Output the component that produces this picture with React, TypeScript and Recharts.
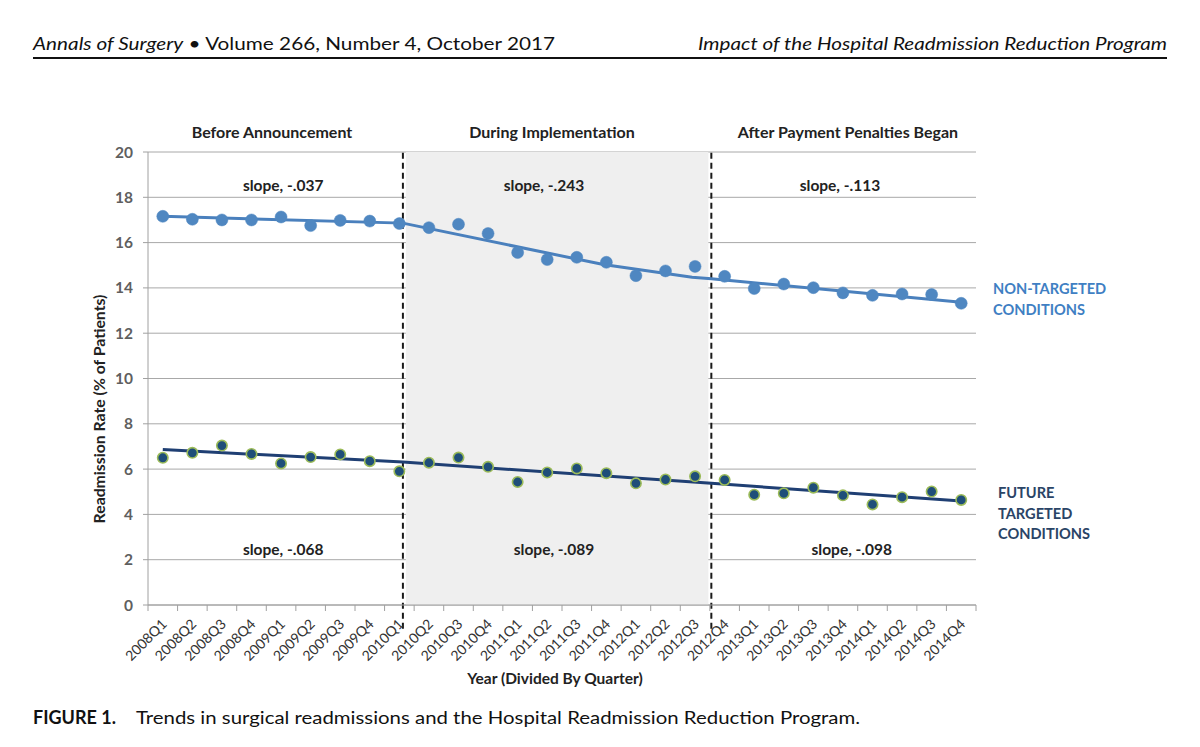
import React from 'react';
import {
  ComposedChart,
  Line,
  XAxis,
  YAxis,
  CartesianGrid,
  ReferenceLine,
  ReferenceArea,
  ReferenceDot,
} from 'recharts';

// ---------- data ----------
const quarters = [
  '2008Q1', '2008Q2', '2008Q3', '2008Q4',
  '2009Q1', '2009Q2', '2009Q3', '2009Q4',
  '2010Q1', '2010Q2', '2010Q3', '2010Q4',
  '2011Q1', '2011Q2', '2011Q3', '2011Q4',
  '2012Q1', '2012Q2', '2012Q3', '2012Q4',
  '2013Q1', '2013Q2', '2013Q3', '2013Q4',
  '2014Q1', '2014Q2', '2014Q3', '2014Q4',
];

const nonTargeted = [
  17.16, 17.03, 17.0, 17.0, 17.13, 16.75, 16.98, 16.95,
  16.84, 16.66, 16.81, 16.4, 15.56, 15.25, 15.35, 15.13,
  14.54, 14.75, 14.95, 14.51, 13.97, 14.17, 14.01, 13.78,
  13.67, 13.73, 13.71, 13.32,
];

const futureTargeted = [
  6.5, 6.72, 7.04, 6.67, 6.25, 6.53, 6.65, 6.35,
  5.9, 6.28, 6.51, 6.1, 5.43, 5.85, 6.03, 5.82,
  5.37, 5.54, 5.68, 5.52, 4.87, 4.93, 5.18, 4.84,
  4.44, 4.76, 5.01, 4.64,
];

// fitted trend vertices (x in quarter index units)
const trendNTx = [0, 8.12, 14.9, 17.9, 18.55, 27];
const trendNTy = [17.16, 16.86, 15.03, 14.47, 14.4, 13.37];
const trendFTx = [0, 8.12, 18.55, 27];
const trendFTy = [6.86, 6.31, 5.37, 4.59];

const yTicks = [0, 2, 4, 6, 8, 10, 12, 14, 16, 18, 20];

// period boundaries (quarter index units)
const announcement = 8.12;
const penalties = 18.55;
const shadeRange = [8.22, 18.45];

const slopeLabels = [
  { x: 4.07, y: 18.54, text: 'slope, -.037' },
  { x: 12.89, y: 18.54, text: 'slope, -.243' },
  { x: 22.9, y: 18.54, text: 'slope, -.113' },
  { x: 4.07, y: 2.43, text: 'slope, -.068' },
  { x: 13.23, y: 2.43, text: 'slope, -.089' },
  { x: 23.3, y: 2.43, text: 'slope, -.098' },
];

// ---------- tables ----------
const chartData = quarters.map((q, i) => ({
  idx: i,
  q,
  nt: nonTargeted[i],
  ft: futureTargeted[i],
}));
const trendNT = trendNTx.map((x, i) => ({ idx: x, v: trendNTy[i] }));
const trendFT = trendFTx.map((x, i) => ({ idx: x, v: trendFTy[i] }));
const xTicks = quarters.map((_, i) => i);

// ---------- layout ----------
const W = 1200;
const H = 747;
const M = { top: 152, right: 224, bottom: 0, left: 0 };
const Y_AXIS_W = 148;
const X_AXIS_H = 142;
const PLOT_W = W - M.right - Y_AXIS_W;
const BW = PLOT_W / quarters.length;

const FONT = 'Lato, "Noto Sans", sans-serif';
const AXIS_GRAY = '#a0a0a0';

function XTick(props: any) {
  const { x, y, payload } = props;
  const i = payload.value as number;
  const label = quarters[i];
  const tx = x + 5;
  const ty = y + 20;
  return (
    <g>
      <line x1={x - BW / 2} y1={y} x2={x - BW / 2} y2={y + 6} stroke={AXIS_GRAY} strokeWidth={1} />
      {i === quarters.length - 1 && (
        <line x1={x + BW / 2} y1={y} x2={x + BW / 2} y2={y + 6} stroke={AXIS_GRAY} strokeWidth={1} />
      )}
      <text
        x={tx}
        y={ty}
        transform={`rotate(-45 ${tx} ${ty})`}
        textAnchor="end"
        fontSize={14}
        fill="#333"
        fontFamily={FONT}
      >
        {label}
      </text>
    </g>
  );
}

const titleStyle = { fontSize: 16, fontWeight: 700, fill: '#222', fontFamily: FONT } as const;
const seriesLabel = { fontSize: 14.6, fontWeight: 700, fontFamily: FONT } as const;

export default function App() {
  return (
    <div style={{ position: 'absolute', left: 0, top: 0, width: W, height: H, background: '#fff' }}>
      <ComposedChart width={W} height={H} data={chartData} margin={M}>
        <ReferenceArea
          x1={shadeRange[0]}
          x2={shadeRange[1]}
          y1={0}
          y2={20}
          fill="#efefef"
          fillOpacity={1}
          stroke="none"
        />
        <CartesianGrid vertical={false} stroke="#a8a8a8" strokeWidth={1} />
        <XAxis
          dataKey="idx"
          type="number"
          domain={[-0.5, 27.5]}
          ticks={xTicks}
          interval={0}
          height={X_AXIS_H}
          tickSize={0}
          tickMargin={0}
          tickLine={false}
          axisLine={{ stroke: AXIS_GRAY }}
          tick={<XTick />}
          allowDataOverflow
        />
        <YAxis
          type="number"
          domain={[0, 20]}
          ticks={yTicks}
          width={Y_AXIS_W}
          tickSize={5}
          tickMargin={10}
          axisLine={{ stroke: AXIS_GRAY }}
          tickLine={{ stroke: AXIS_GRAY }}
          tick={{ fontSize: 15.5, fill: '#5f5f5f', fontFamily: FONT, fontWeight: 700 }}
          interval={0}
        />
        <ReferenceLine
          segment={[{ x: announcement, y: -1.05 }, { x: announcement, y: 20 }]}
          stroke="#1a1a1a"
          strokeWidth={2}
          strokeDasharray="6 4"
          ifOverflow="visible"
        />
        <ReferenceLine
          segment={[{ x: penalties, y: -1.05 }, { x: penalties, y: 20 }]}
          stroke="#1a1a1a"
          strokeWidth={2}
          strokeDasharray="6 4"
          ifOverflow="visible"
        />
        <Line
          data={trendNT}
          dataKey="v"
          stroke="#4a80bd"
          strokeWidth={3}
          dot={false}
          activeDot={false}
          isAnimationActive={false}
        />
        <Line
          data={trendFT}
          dataKey="v"
          stroke="#1f3f73"
          strokeWidth={3}
          dot={false}
          activeDot={false}
          isAnimationActive={false}
        />
        <Line
          dataKey="nt"
          stroke="none"
          dot={{ r: 6, fill: '#4f87c1', stroke: '#4f87c1', strokeWidth: 0.5 }}
          activeDot={false}
          isAnimationActive={false}
        />
        <Line
          dataKey="ft"
          stroke="none"
          dot={{ r: 5.2, fill: '#1f4e79', stroke: '#9bbb59', strokeWidth: 1.6 }}
          activeDot={false}
          isAnimationActive={false}
        />
        {slopeLabels.map((s) => (
          <ReferenceDot
            key={s.text}
            x={s.x}
            y={s.y}
            r={0}
            fill="none"
            stroke="none"
            label={{
              value: s.text,
              position: 'center',
              fill: '#222',
              fontSize: 15.5,
              fontWeight: 700,
              fontFamily: FONT,
            }}
          />
        ))}
      </ComposedChart>

      <svg
        width={W}
        height={H}
        style={{ position: 'absolute', left: 0, top: 0, pointerEvents: 'none' }}
      >
        {/* running header */}
        <text x={33} y={50} fontSize={18} fill="#111" fontFamily={FONT} textLength={522} lengthAdjust="spacingAndGlyphs">
          <tspan fontStyle="italic">Annals of Surgery</tspan>
          <tspan> • Volume 266, Number 4, October 2017</tspan>
        </text>
        <text
          x={1167}
          y={50}
          fontSize={18}
          fill="#111"
          fontFamily={FONT}
          fontStyle="italic"
          textAnchor="end"
          textLength={469}
          lengthAdjust="spacingAndGlyphs"
        >
          Impact of the Hospital Readmission Reduction Program
        </text>
        <line x1={33} y1={58} x2={1167} y2={58} stroke="#111" strokeWidth={2} />

        {/* period titles */}
        <text x={272} y={138} textAnchor="middle" {...titleStyle}>
          Before Announcement
        </text>
        <text x={552} y={138} textAnchor="middle" {...titleStyle}>
          During Implementation
        </text>
        <text x={848} y={138} textAnchor="middle" {...titleStyle}>
          After Payment Penalties Began
        </text>

        {/* series labels */}
        <text x={993} y={294} fill="#3f7fc3" {...seriesLabel}>
          NON-TARGETED
        </text>
        <text x={993} y={315} fill="#3f7fc3" {...seriesLabel}>
          CONDITIONS
        </text>
        <text x={998} y={498} fill="#2a4466" {...seriesLabel}>
          FUTURE
        </text>
        <text x={998} y={519} fill="#2a4466" {...seriesLabel}>
          TARGETED
        </text>
        <text x={998} y={539} fill="#2a4466" {...seriesLabel}>
          CONDITIONS
        </text>

        {/* axis titles */}
        <text
          x={105}
          y={409}
          transform="rotate(-90 105 409)"
          textAnchor="middle"
          fontSize={15.8}
          fontWeight={700}
          fill="#222"
          fontFamily={FONT}
        >
          Readmission Rate (% of Patients)
        </text>
        <text x={555} y={684} textAnchor="middle" fontSize={15.5} fontWeight={700} fill="#222" fontFamily={FONT}>
          Year (Divided By Quarter)
        </text>

        {/* caption */}
        <text x={33} y={724} fontSize={18} fill="#111" fontFamily={FONT}>
          <tspan fontWeight={700}>FIGURE 1.</tspan>
        </text>
        <text x={136} y={724} fontSize={18} fill="#111" fontFamily={FONT} textLength={724} lengthAdjust="spacingAndGlyphs">
          Trends in surgical readmissions and the Hospital Readmission Reduction Program.
        </text>
      </svg>
    </div>
  );
}
